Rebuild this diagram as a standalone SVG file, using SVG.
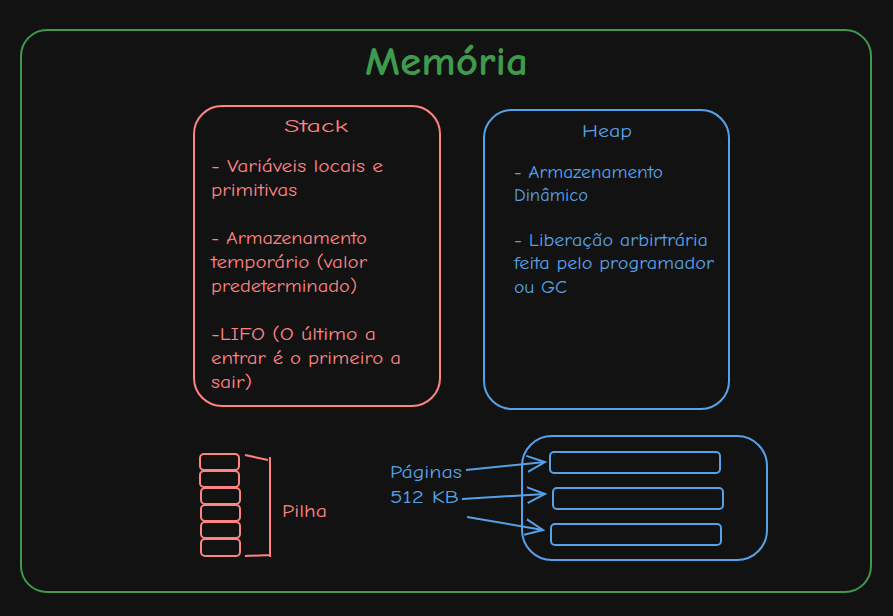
<svg xmlns="http://www.w3.org/2000/svg" width="893" height="616" viewBox="0 0 893 616">
<style>
text{font-family:"Comic Neue","Liberation Sans","DejaVu Sans",sans-serif}
.g{fill:none;stroke:#3e9a4c;stroke-width:2}
.r{fill:none;stroke:#ff8383;stroke-width:2}
.b{fill:none;stroke:#56a2e8;stroke-width:2}
.rt{fill:#ff8383;font-size:19px}
.bt{fill:#56a2e8;font-size:18.5px}
</style>
<defs>
<marker id="ah" viewBox="0 0 20 20" refX="18" refY="10" markerWidth="20" markerHeight="20" markerUnits="userSpaceOnUse" orient="auto">
<path d="M0,2 L18,10 L0,18" fill="none" stroke="#56a2e8" stroke-width="2"/>
</marker>
</defs>
<rect width="893" height="616" fill="#121212"/>
<g id="memoria">
<rect class="g" x="21" y="30" width="850" height="562" rx="26"/>
<text x="365" y="75" fill="#3e9a4c" font-size="40" font-weight="bold" textLength="163" lengthAdjust="spacingAndGlyphs">Memória</text>
</g>
<g id="stack">
<rect class="r" x="194" y="106" width="246" height="300" rx="28"/>
<text class="rt" x="284" y="132" font-size="21" textLength="64" lengthAdjust="spacingAndGlyphs">Stack</text>
<text class="rt" x="211" y="172" textLength="172" lengthAdjust="spacingAndGlyphs">- Variáveis locais e</text>
<text class="rt" x="211" y="196" textLength="86" lengthAdjust="spacingAndGlyphs">primitivas</text>
<text class="rt" x="211" y="244" textLength="156" lengthAdjust="spacingAndGlyphs">- Armazenamento</text>
<text class="rt" x="211" y="268" textLength="156" lengthAdjust="spacingAndGlyphs">temporário (valor</text>
<text class="rt" x="211" y="292" textLength="146" lengthAdjust="spacingAndGlyphs">predeterminado)</text>
<text class="rt" x="211" y="340" textLength="165" lengthAdjust="spacingAndGlyphs">-LIFO (O último a</text>
<text class="rt" x="211" y="364" textLength="190" lengthAdjust="spacingAndGlyphs">entrar é o primeiro a</text>
<text class="rt" x="211" y="388" textLength="41" lengthAdjust="spacingAndGlyphs">sair)</text>
</g>
<g id="heap">
<rect class="b" x="484" y="110" width="245" height="299" rx="28"/>
<text class="bt" x="582" y="137" font-size="21" textLength="50" lengthAdjust="spacingAndGlyphs">Heap</text>
<text class="bt" x="514" y="178" textLength="149" lengthAdjust="spacingAndGlyphs">- Armazenamento</text>
<text class="bt" x="514" y="201" textLength="74" lengthAdjust="spacingAndGlyphs">Dinâmico</text>
<text class="bt" x="514" y="246" textLength="194" lengthAdjust="spacingAndGlyphs">- Liberação arbirtrária</text>
<text class="bt" x="514" y="269" textLength="200" lengthAdjust="spacingAndGlyphs">feita pelo programador</text>
<text class="bt" x="514" y="293" textLength="53" lengthAdjust="spacingAndGlyphs">ou GC</text>
</g>
<g id="pilha">
<rect class="r" x="200" y="454" width="39" height="16" rx="4"/>
<rect class="r" x="200" y="471" width="39" height="16" rx="4"/>
<rect class="r" x="201" y="488" width="39" height="16" rx="4"/>
<rect class="r" x="201" y="505" width="39" height="16" rx="4"/>
<rect class="r" x="201" y="522" width="39" height="16" rx="4"/>
<rect class="r" x="201" y="539" width="39" height="17" rx="4"/>
<path class="r" d="M245,455 L268,460 M270,457 L270,557 M245,556 L270,555" stroke-width="2.5"/>
<text class="rt" x="282" y="517" font-size="19" textLength="45" lengthAdjust="spacingAndGlyphs">Pilha</text>
</g>
<g id="paginas">
<rect class="b" x="522" y="436" width="245" height="124" rx="30"/>
<rect class="b" x="550" y="452" width="170" height="21" rx="4"/>
<rect class="b" x="553" y="488" width="170" height="21" rx="4"/>
<rect class="b" x="551" y="524" width="170" height="21" rx="4"/>
<text class="bt" x="390" y="478" font-size="19" textLength="72" lengthAdjust="spacingAndGlyphs">Páginas</text>
<text class="bt" x="390" y="503" font-size="19" textLength="69" lengthAdjust="spacingAndGlyphs">512 KB</text>
</g>
<g id="connectors">
<path class="b" d="M466,470 L545,462" marker-end="url(#ah)" stroke-width="2.5"/>
<path class="b" d="M462,499 L545,494" marker-end="url(#ah)" stroke-width="2.5"/>
<path class="b" d="M467,517 L543,530" marker-end="url(#ah)" stroke-width="2.5"/>
</g>
</svg>
